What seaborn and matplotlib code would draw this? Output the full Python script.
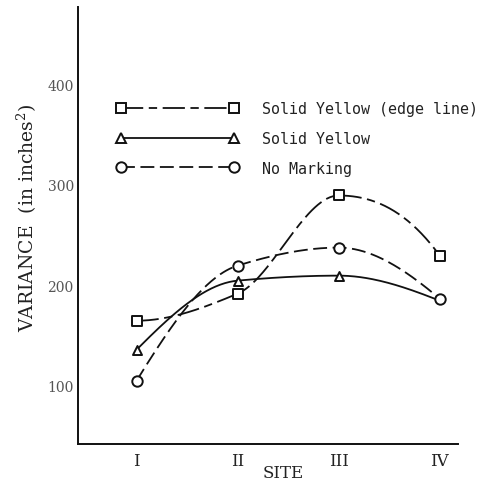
import numpy as np
import matplotlib
matplotlib.use("Agg")
import matplotlib.pyplot as plt
from matplotlib.lines import Line2D
import seaborn as sns

# Values
sites = ["I", "II", "III", "IV"]
edge_line = [173, 200, 298, 238]      # Solid Yellow (edge line)
solid_yellow = [144, 213, 218, 193]   # Solid Yellow
no_marking = [113, 228, 246, 195]     # No Marking

sns.set_theme(style="white")
plt.rcParams["font.family"] = ["DejaVu Serif"]
plt.rcParams["lines.scale_dashes"] = False
plt.rcParams["mathtext.fontset"] = "dejavuserif"


def pchip(x, y, n=200):
    # shape preserving cubic through the read points (smooth drawing of the line)
    x = np.asarray(x, float)
    y = np.asarray(y, float)
    h = np.diff(x)
    d = np.diff(y) / h
    m = np.zeros_like(y)
    for k in range(1, len(x) - 1):
        if d[k - 1] * d[k] > 0:
            w1 = 2 * h[k] + h[k - 1]
            w2 = h[k] + 2 * h[k - 1]
            m[k] = (w1 + w2) / (w1 / d[k - 1] + w2 / d[k])
    for k, (i, j) in ((0, (0, 1)), (-1, (-1, -2))):
        mm = ((2 * h[i] + h[j]) * d[i] - h[i] * d[j]) / (h[i] + h[j])
        if np.sign(mm) != np.sign(d[i]):
            mm = 0.0
        elif np.sign(d[i]) != np.sign(d[j]) and abs(mm) > abs(3 * d[i]):
            mm = 3 * d[i]
        m[k] = mm
    xs = np.linspace(x[0], x[-1], n)
    idx = np.clip(np.searchsorted(x, xs) - 1, 0, len(x) - 2)
    t = (xs - x[idx]) / h[idx]
    h00 = 2 * t**3 - 3 * t**2 + 1
    h10 = t**3 - 2 * t**2 + t
    h01 = -2 * t**3 + 3 * t**2
    h11 = t**3 - t**2
    ys = h00 * y[idx] + h10 * h[idx] * m[idx] + h01 * y[idx + 1] + h11 * h[idx] * m[idx + 1]
    return xs, ys


x = np.arange(1, len(sites) + 1)

fig = plt.figure(figsize=(4.84, 4.81), dpi=100)
ax = fig.add_axes([0.161, 0.075, 0.785, 0.908])

ink = "#111111"
series = [
    (edge_line, "s", 7.0, (0, (16, 4, 6, 4)), "Solid Yellow (edge line)"),
    (solid_yellow, "^", 6.5, "-", "Solid Yellow"),
    (no_marking, "o", 7.5, (0, (10, 4)), "No Marking"),
]

handles = []
for vals, mk, ms, ls, lab in series:
    xs, ys = pchip(x, vals)
    sns.lineplot(x=xs, y=ys, ax=ax, color=ink, lw=1.3, linestyle=ls,
                 sort=False, estimator=None, legend=False)
    handles.append(Line2D([], [], color=ink, lw=1.3, linestyle=ls, marker=mk,
                          ms=ms, mfc="white", mec=ink, mew=1.4, label=lab))

# triangle hidden under the circle where both series meet (site IV)
tri_show = np.abs(np.array(solid_yellow) - np.array(no_marking)) > 5
sns.scatterplot(x=x[tri_show], y=np.array(solid_yellow)[tri_show], ax=ax, marker="^",
                s=6.5**2, facecolor="white", edgecolor=ink, linewidth=1.4,
                zorder=4, legend=False)
for vals, mk, ms in [(edge_line, "s", 7.0), (no_marking, "o", 7.5)]:
    sns.scatterplot(x=x, y=vals, ax=ax, marker=mk, s=ms**2, facecolor="white",
                    edgecolor=ink, linewidth=1.4, zorder=4, legend=False)

ax.set_xlim(0.42, 4.18)
ax.set_ylim(50, 486)
ax.set_xticks(x)
ax.set_xticklabels(sites, fontsize=12, color="#222222")
ax.set_yticks([100, 200, 300, 400])
ax.set_yticklabels(["100", "200", "300", "400"], fontsize=10, color="#555555", va="bottom")

for s in ["top", "right"]:
    ax.spines[s].set_visible(False)
for s in ["left", "bottom"]:
    ax.spines[s].set_color(ink)
    ax.spines[s].set_linewidth(1.4)

ax.tick_params(axis="y", direction="in", length=5, width=1.2, color=ink, pad=3)
ax.tick_params(axis="x", direction="inout", length=5, width=1.0, color=ink, pad=3)

ax.set_ylabel(r"VARIANCE  (in inches$^2$)", fontsize=13.5, color="#222222")
ax.yaxis.set_label_coords(-0.103, 0.52)
ax.set_xlabel("SITE", fontsize=12, color="#222222")
ax.xaxis.set_label_coords(0.54, -0.047)

leg = ax.legend(handles=handles, loc="upper left", bbox_to_anchor=(0.087, 0.798),
                frameon=False, numpoints=2, handlelength=8.1, handletextpad=1.6,
                labelspacing=0.97, borderaxespad=0,
                prop={"family": "DejaVu Sans Mono", "size": 10.8})
for t in leg.get_texts():
    t.set_color("#222222")

fig.savefig("out.png", dpi=100)
